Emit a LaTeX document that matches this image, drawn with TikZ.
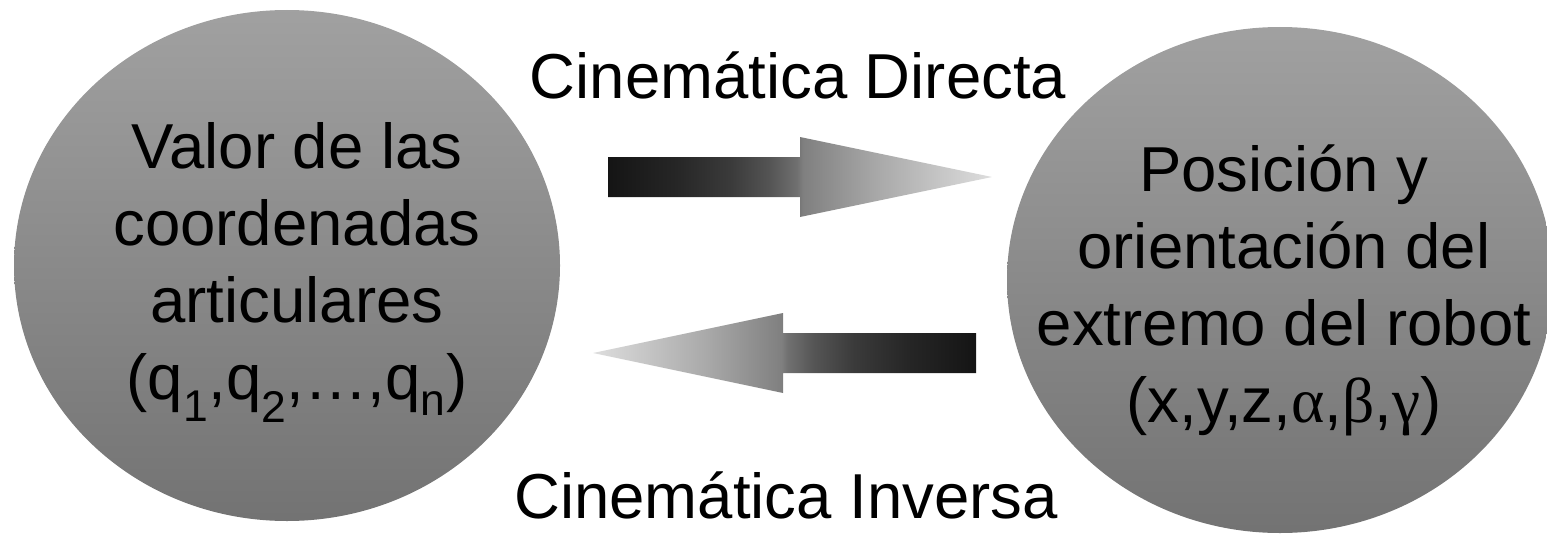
\documentclass[tikz,border=0pt]{standalone}
\usepackage{fontspec}
\setmainfont{Liberation Sans}
\newfontfamily\grkfont{Liberation Serif}
\usetikzlibrary{shapes.geometric}
\definecolor{eltop}{gray}{0.63}
\definecolor{elbot}{gray}{0.45}
\definecolor{acA}{gray}{0.08}
\definecolor{acB}{gray}{0.15}
\definecolor{acC}{gray}{0.23}
\definecolor{acD}{gray}{0.33}
\definecolor{acE}{gray}{0.44}
\definecolor{acF}{gray}{0.50}
\definecolor{acG}{gray}{0.66}
\definecolor{acH}{gray}{0.87}
\pgfdeclarehorizontalshading{arrowgrad}{100bp}{color(0bp)=(acA); color(25bp)=(acA); color(34bp)=(acB); color(41bp)=(acC); color(46bp)=(acD); color(49.6bp)=(acE); color(50.4bp)=(acF); color(60bp)=(acG); color(75bp)=(acH); color(100bp)=(acH)}
\begin{document}
\begin{tikzpicture}[x=1pt,y=-1pt,
  blob/.style={ellipse, draw=none, top color=eltop, bottom color=elbot, inner sep=0pt},
  bigtext/.style={font=\fontsize{63.5}{77}\selectfont, align=center, inner sep=0pt, text=black},
  blockarrow/.style={shading=arrowgrad}]
\useasboundingbox (0,0) rectangle (1547,535);
% ellipses
\node[blob, minimum width=546pt, minimum height=511pt] (L) at (287,265.5) {};
\node[blob, minimum width=546pt, minimum height=506pt] (R) at (1280,280) {};
% texts inside
\node[bigtext] (Ltxt) at (297,272.5) {Valor de las\\coordenadas\\articulares\\(q\textsubscript{1},q\textsubscript{2},…,q\textsubscript{n})};
\node[bigtext] (Rtxt) at (1284,290) {Posición y\\orientación del\\extremo del robot\\(x,y,z,{\grkfont α},{\grkfont β},{\grkfont γ})};
% labels
\node[bigtext, anchor=base] (cd) at (798,98) {Cinemática Directa};
\node[bigtext, anchor=base] (ci) at (786,518) {Cinemática Inversa};
% block arrows
\coordinate (fa) at (608,177);
\coordinate (fb) at (992,177);
\coordinate (ia) at (976,353);
\coordinate (ib) at (593,353);
\shade[blockarrow] (fa) ++(0,-20) -- ++(192,0) -- ++(0,-20) -- (fb) -- ++(-192,40) -- ++(0,-20) -- ++(-192,0) -- cycle;
\shade[blockarrow, shading angle=180] (ia) ++(0,-20) -- ++(-193,0) -- ++(0,-20) -- (ib) -- ++(190,40) -- ++(0,-20) -- ++(193,0) -- cycle;
\end{tikzpicture}
\end{document}
